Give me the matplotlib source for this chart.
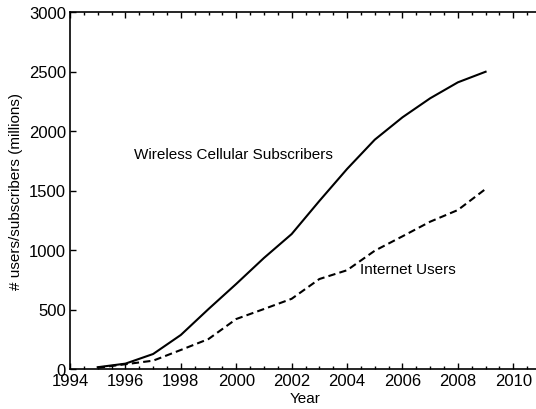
import matplotlib
matplotlib.use("Agg")
import matplotlib.pyplot as plt
from matplotlib.ticker import MultipleLocator

plt.rcParams['font.family'] = ['Liberation Sans', 'DejaVu Sans']

years = [1995, 1996, 1997, 1998, 1999, 2000, 2001, 2002, 2003, 2004,
         2005, 2006, 2007, 2008, 2009]
wireless = [15, 45, 126, 286, 504, 715, 933, 1134, 1412, 1681,
            1927, 2115, 2275, 2409, 2498]
internet = [10, 40, 70, 160, 252, 420, 504, 590, 756, 830,
            994, 1115, 1238, 1336, 1513]

fig = plt.figure(figsize=(5.36, 4.10), dpi=100)
ax = fig.add_axes([70 / 536, 40 / 410, 471 / 536, 357 / 410])

ax.plot(years, wireless, color='black', lw=1.5, linestyle='-')
ax.plot(years, internet, color='black', lw=1.5, linestyle=(0, (3.5, 2)))

ax.set_xlim(1994, 2011)
ax.set_ylim(0, 3000)
ax.xaxis.set_major_locator(MultipleLocator(2))
ax.xaxis.set_minor_locator(MultipleLocator(0.5))
ax.yaxis.set_major_locator(MultipleLocator(500))

ax.tick_params(which='both', direction='in', top=True, right=False,
               labelsize=12, pad=3)
ax.tick_params(which='major', length=4, width=1)
ax.tick_params(which='minor', length=2.5, width=1)
for sp in ax.spines.values():
    sp.set_linewidth(1.2)

ax.set_xlabel('Year', fontsize=11, labelpad=2)
ax.set_ylabel('# users/subscribers (millions)', fontsize=11, labelpad=4)

ax.text(1996.31, 1807, 'Wireless Cellular Subscribers', fontsize=11,
        ha='left', va='center')
ax.text(2004.47, 840, 'Internet Users', fontsize=11, ha='left', va='center')

fig.savefig('out.png', dpi=100)
